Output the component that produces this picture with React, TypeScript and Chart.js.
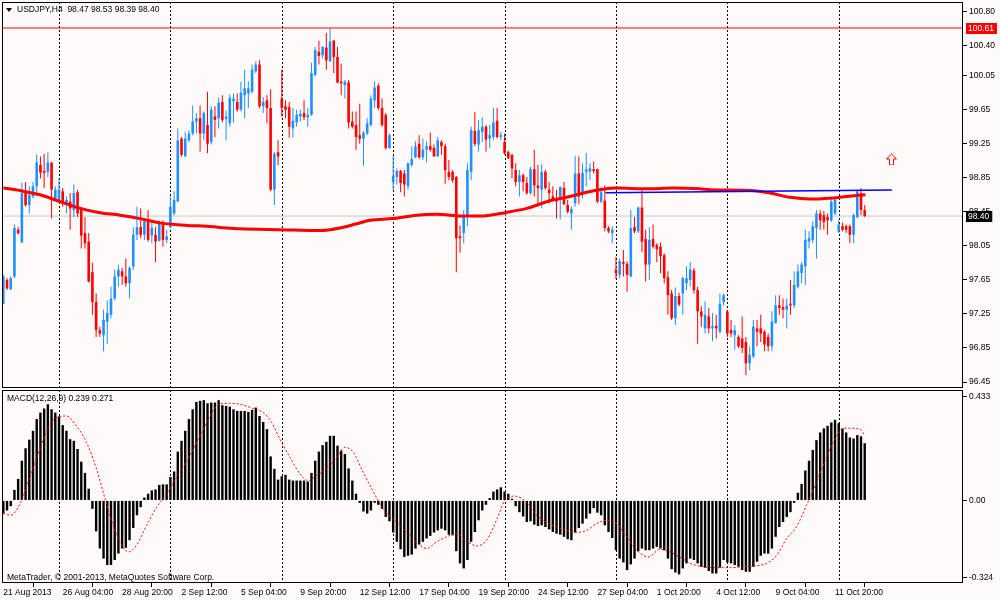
import React, { useEffect, useRef } from "react";
import { Chart, registerables } from "chart.js";

Chart.register(...registerables);

const FONT = '"Liberation Sans", Arial, sans-serif';
const BG = "#FFFAFA";
const BULL = "#1E90FF";
const BEAR = "#FF0000";

// ---- OHLC (USDJPY H4) ----
const opens = [
  97.37, 97.65, 97.54, 97.69, 98.24, 98.09, 98.68, 98.53, 98.63, 98.75,
  99.0, 98.93, 98.92, 99.03, 98.59, 98.59, 98.69, 98.54, 98.57, 98.47,
  98.68, 98.49, 98.2, 98.1, 97.74, 97.39, 97.06, 97.0, 97.16, 97.24,
  97.43, 97.69, 97.75, 97.69, 97.61, 97.81, 98.18, 98.27, 98.18, 98.35,
  98.17, 98.18, 98.11, 98.3, 98.12, 98.27, 98.43, 98.57, 99.31, 99.1,
  99.29, 99.37, 99.51, 99.55, 99.37, 99.47, 99.27, 99.57, 99.55, 99.74,
  99.54, 99.49, 99.75, 99.74, 99.65, 99.82, 99.84, 99.86, 100.1, 100.18,
  99.69, 99.76, 99.67, 98.71, 99.15, 99.78, 99.69, 99.68, 99.43, 99.5,
  99.57, 99.61, 99.56, 99.59, 100.06, 100.33, 100.29, 100.38, 100.22, 100.46,
  100.27, 99.98, 99.94, 99.97, 99.51, 99.47, 99.35, 99.31, 99.37, 99.47,
  99.76, 99.93, 99.67, 99.59, 99.2, 98.8, 98.86, 98.93, 98.9, 98.75,
  99.0, 99.09, 99.25, 99.09, 99.18, 99.22, 99.2, 99.1, 99.27, 99.22,
  98.92, 98.92, 98.86, 98.16, 98.2, 98.39, 98.92, 99.4, 99.24, 99.39,
  99.45, 99.31, 99.33, 99.52, 99.33, 99.27, 99.15, 99.12, 98.94, 98.8,
  98.88, 98.79, 98.67, 98.95, 98.76, 98.71, 98.92, 98.71, 98.63, 98.61,
  98.59, 98.73, 98.53, 98.43, 98.55, 98.9, 98.67, 98.92, 98.92, 98.95,
  98.95, 98.57, 98.58, 98.26, 98.2, 97.77, 97.71, 97.86, 97.84, 97.69,
  98.27, 98.22, 98.5, 98.13, 97.83, 98.13, 98.06, 98.04, 97.94, 97.68,
  97.49, 97.2, 97.46, 97.49, 97.61, 97.65, 97.76, 97.53, 97.28, 97.08,
  97.22, 97.08, 97.11, 97.04, 97.39, 97.28, 97.06, 97.0, 96.98, 96.96,
  96.92, 96.67, 96.75, 97.08, 97.08, 97.04, 96.98, 96.87, 97.14, 97.35,
  97.33, 97.3, 97.37, 97.35, 97.57, 97.73, 97.81, 98.1, 98.12, 98.26,
  98.43, 98.41, 98.39, 98.35, 98.43, 98.22, 98.28, 98.28, 98.28, 98.18,
  98.39, 98.67, 98.47,
];
const highs = [
  97.71, 97.67, 97.69, 98.3, 98.27, 98.79, 98.8, 98.75, 98.8, 99.12,
  99.1, 99.13, 99.15, 99.03, 98.75, 98.84, 98.73, 98.63, 98.67, 98.77,
  98.71, 98.51, 98.39, 98.2, 97.85, 97.49, 97.1, 97.3, 97.41, 97.57,
  97.77, 97.83, 97.79, 97.9, 97.81, 98.27, 98.51, 98.49, 98.35, 98.47,
  98.34, 98.27, 98.35, 98.35, 98.24, 98.63, 98.69, 99.43, 99.33, 99.39,
  99.41, 99.7, 99.61, 99.7, 99.63, 99.86, 99.69, 99.69, 99.79, 99.82,
  99.64, 99.83, 99.84, 99.84, 99.98, 100.12, 99.98, 100.18, 100.22, 100.23,
  99.8, 99.82, 99.89, 99.16, 99.29, 100.12, 99.76, 99.74, 99.67, 99.65,
  99.65, 99.76, 99.67, 100.2, 100.39, 100.46, 100.39, 100.55, 100.61, 100.47,
  100.39, 100.19, 100.0, 100.0, 99.63, 99.63, 99.72, 99.4, 99.55, 99.82,
  99.98, 99.96, 99.78, 99.61, 99.37, 99.11, 98.96, 98.94, 98.94, 99.03,
  99.22, 99.28, 99.35, 99.31, 99.28, 99.38, 99.24, 99.33, 99.29, 99.25,
  99.06, 98.94, 98.87, 98.29, 98.47, 99.02, 99.45, 99.62, 99.53, 99.56,
  99.47, 99.47, 99.67, 99.67, 99.39, 99.37, 99.17, 99.13, 99.02, 98.94,
  98.9, 98.86, 98.98, 99.18, 99.0, 99.01, 98.94, 98.8, 98.75, 98.71,
  98.75, 98.8, 98.59, 98.51, 99.11, 99.1, 99.02, 99.14, 99.02, 99.04,
  98.96, 98.74, 98.76, 98.28, 98.28, 97.92, 97.9, 98.0, 97.87, 98.47,
  98.39, 98.51, 98.71, 98.24, 98.27, 98.3, 98.08, 98.09, 97.96, 97.75,
  97.53, 97.56, 97.5, 97.69, 97.81, 97.86, 97.79, 97.57, 97.34, 97.4,
  97.32, 97.26, 97.24, 97.49, 97.49, 97.3, 97.18, 97.12, 97.0, 97.22,
  96.98, 96.87, 97.18, 97.18, 97.24, 97.06, 97.02, 97.28, 97.47, 97.47,
  97.43, 97.43, 97.65, 97.75, 97.83, 97.86, 98.24, 98.22, 98.34, 98.47,
  98.47, 98.46, 98.43, 98.63, 98.61, 98.35, 98.32, 98.3, 98.3, 98.43,
  98.71, 98.73, 98.53,
];
const lows = [
  97.36, 97.53, 97.53, 97.67, 98.18, 98.08, 98.51, 98.43, 98.61, 98.63,
  98.84, 98.73, 98.86, 98.37, 98.58, 98.57, 98.51, 98.43, 98.24, 98.39,
  98.39, 98.02, 98.02, 97.62, 97.24, 96.98, 96.98, 96.81, 96.9, 97.2,
  97.41, 97.57, 97.59, 97.57, 97.43, 97.77, 98.12, 98.14, 98.12, 98.1,
  98.08, 97.86, 98.1, 98.04, 98.08, 98.26, 98.41, 98.57, 99.1, 99.1,
  99.27, 99.35, 99.37, 99.16, 99.29, 99.14, 99.24, 99.33, 99.43, 99.5,
  99.29, 99.45, 99.5, 99.63, 99.63, 99.55, 99.67, 99.84, 100.08, 99.67,
  99.61, 99.49, 98.69, 98.53, 99.0, 99.57, 99.55, 99.32, 99.32, 99.45,
  99.51, 99.53, 99.45, 99.58, 100.04, 100.18, 100.25, 100.12, 100.21, 100.08,
  99.96, 99.82, 99.78, 99.43, 99.43, 99.18, 99.25, 98.99, 99.35, 99.45,
  99.67, 99.65, 99.45, 99.18, 99.19, 98.7, 98.77, 98.68, 98.63, 98.71,
  98.98, 99.08, 99.07, 99.06, 99.03, 99.16, 99.1, 99.1, 99.12, 98.78,
  98.82, 98.79, 97.74, 97.97, 98.08, 98.28, 98.82, 99.22, 99.16, 99.27,
  99.16, 99.2, 99.29, 99.31, 99.29, 99.12, 99.07, 98.84, 98.75, 98.63,
  98.69, 98.65, 98.65, 98.63, 98.51, 98.49, 98.71, 98.55, 98.59, 98.37,
  98.36, 98.53, 98.43, 98.24, 98.51, 98.54, 98.61, 98.75, 98.82, 98.9,
  98.55, 98.55, 98.22, 98.2, 98.08, 97.66, 97.67, 97.69, 97.51, 97.68,
  98.2, 98.2, 97.98, 97.63, 97.65, 98.02, 97.86, 97.73, 97.61, 97.24,
  97.18, 97.12, 97.34, 97.24, 97.53, 97.57, 97.49, 96.9, 97.1, 97.02,
  97.02, 96.93, 96.96, 97.02, 97.35, 96.98, 96.98, 96.83, 96.85, 96.79,
  96.53, 96.59, 96.73, 96.87, 96.92, 96.81, 96.81, 96.81, 97.14, 97.24,
  97.2, 97.08, 97.24, 97.32, 97.55, 97.61, 97.59, 98.02, 98.08, 97.9,
  98.24, 98.24, 98.18, 98.33, 98.41, 98.2, 98.22, 98.2, 98.08, 98.08,
  98.37, 98.41, 98.39,
];
const closes = [
  97.69, 97.55, 97.67, 98.26, 98.2, 98.67, 98.53, 98.65, 98.75, 99.03,
  98.91, 98.91, 99.03, 98.71, 98.71, 98.71, 98.57, 98.59, 98.49, 98.67,
  98.43, 98.17, 98.08, 97.63, 97.39, 97.06, 97.02, 97.18, 97.26, 97.43,
  97.69, 97.77, 97.69, 97.61, 97.79, 98.18, 98.27, 98.18, 98.34, 98.12,
  98.26, 98.1, 98.32, 98.12, 98.16, 98.51, 98.59, 99.29, 99.12, 99.31,
  99.37, 99.51, 99.55, 99.37, 99.61, 99.25, 99.65, 99.53, 99.73, 99.53,
  99.57, 99.79, 99.78, 99.65, 99.85, 99.9, 99.9, 100.12, 100.18, 99.69,
  99.74, 99.67, 98.71, 99.13, 99.1, 99.67, 99.65, 99.45, 99.52, 99.59,
  99.6, 99.56, 99.59, 100.08, 100.35, 100.28, 100.39, 100.23, 100.45, 100.27,
  99.97, 99.96, 99.98, 99.5, 99.45, 99.33, 99.31, 99.38, 99.49, 99.78,
  99.91, 99.67, 99.47, 99.2, 99.35, 98.87, 98.93, 98.79, 98.77, 99.02,
  99.07, 99.22, 99.09, 99.18, 99.22, 99.18, 99.1, 99.29, 99.22, 98.94,
  98.86, 98.82, 98.14, 98.14, 98.39, 98.94, 99.41, 99.25, 99.41, 99.45,
  99.3, 99.35, 99.5, 99.33, 99.35, 99.14, 99.08, 98.96, 98.8, 98.88,
  98.8, 98.67, 98.95, 98.76, 98.73, 98.92, 98.73, 98.67, 98.59, 98.57,
  98.74, 98.54, 98.45, 98.48, 98.9, 98.63, 98.91, 98.95, 98.96, 98.93,
  98.57, 98.68, 98.26, 98.22, 98.24, 97.73, 97.87, 97.84, 97.71, 98.26,
  98.22, 98.5, 98.1, 97.83, 98.12, 98.04, 98.01, 97.93, 97.67, 97.47,
  97.2, 97.46, 97.36, 97.67, 97.67, 97.77, 97.53, 97.28, 97.22, 97.24,
  97.08, 97.11, 97.08, 97.37, 97.47, 97.02, 97.02, 97.06, 96.87, 96.85,
  96.67, 96.77, 97.1, 97.04, 97.02, 96.89, 96.87, 97.16, 97.35, 97.32,
  97.3, 97.35, 97.35, 97.59, 97.75, 97.83, 98.12, 98.14, 98.28, 98.43,
  98.35, 98.33, 98.35, 98.57, 98.59, 98.3, 98.24, 98.24, 98.18, 98.41,
  98.69, 98.47, 98.4,
];

// ---- Moving average ----
const maIdx = [0, 4.5, 9.9, 15.3, 20.7, 26, 31.4, 36.8, 42.2, 49.4, 54.8, 60.1, 63.7, 74.5, 85.3, 90.7, 95.2, 98.8, 105, 111.3, 116.7, 123.9, 128.4, 135.1, 141, 147.2, 152.6, 157.1, 160.7, 165.1, 173.3, 180.4, 187.6, 190.3, 201.1, 206.5, 211.9, 217.3, 222.6, 227.1, 232.2];
const maVal = [98.73, 98.7, 98.65, 98.57, 98.49, 98.44, 98.41, 98.37, 98.32, 98.29, 98.28, 98.26, 98.25, 98.24, 98.23, 98.26, 98.31, 98.35, 98.37, 98.41, 98.42, 98.4, 98.4, 98.44, 98.49, 98.58, 98.63, 98.68, 98.71, 98.73, 98.72, 98.73, 98.72, 98.71, 98.7, 98.67, 98.62, 98.6, 98.61, 98.63, 98.65];

// ---- Trend line, levels, arrow ----
const trendIdx = [162.2, 239.3];
const trendVal = [98.675, 98.706];
const levelPrice = 100.61;
const bidPrice = 98.4;
const arrowIdx = [239.2];
const arrowPrice = [99.065];

// ---- MACD(12,26,9) ----
const macdMain = [
  -0.055, -0.042, -0.024, 0.044, 0.09, 0.166, 0.218, 0.254, 0.291, 0.34,
  0.367, 0.384, 0.402, 0.381, 0.367, 0.351, 0.315, 0.291, 0.256, 0.249,
  0.215, 0.162, 0.115, 0.049, -0.035, -0.129, -0.201, -0.243, -0.27, -0.27,
  -0.249, -0.222, -0.201, -0.198, -0.166, -0.115, -0.062, -0.028, 0.012, 0.028,
  0.042, 0.046, 0.065, 0.067, 0.067, 0.098, 0.121, 0.204, 0.249, 0.291,
  0.34, 0.381, 0.412, 0.416, 0.419, 0.406, 0.409, 0.409, 0.419, 0.398,
  0.395, 0.392, 0.381, 0.374, 0.374, 0.374, 0.37, 0.378, 0.388, 0.353,
  0.328, 0.298, 0.184, 0.132, 0.087, 0.101, 0.107, 0.087, 0.083, 0.083,
  0.083, 0.083, 0.079, 0.115, 0.166, 0.204, 0.231, 0.245, 0.27, 0.27,
  0.229, 0.208, 0.194, 0.134, 0.083, 0.028, -0.01, -0.046, -0.055, -0.042,
  -0.01, -0.018, -0.035, -0.069, -0.087, -0.134, -0.173, -0.204, -0.236, -0.231,
  -0.226, -0.201, -0.184, -0.173, -0.159, -0.148, -0.134, -0.125, -0.118, -0.125,
  -0.143, -0.146, -0.212, -0.263, -0.284, -0.249, -0.173, -0.132, -0.083, -0.042,
  -0.018, 0.01, 0.037, 0.046, 0.055, 0.037, 0.028, 0.007, -0.024, -0.049,
  -0.067, -0.09, -0.087, -0.101, -0.107, -0.104, -0.111, -0.121, -0.132, -0.139,
  -0.143, -0.152, -0.162, -0.166, -0.134, -0.115, -0.097, -0.076, -0.055, -0.032,
  -0.051, -0.062, -0.104, -0.132, -0.157, -0.208, -0.243, -0.259, -0.291, -0.267,
  -0.243, -0.212, -0.201, -0.208, -0.208, -0.201, -0.194, -0.201, -0.208, -0.243,
  -0.287, -0.301, -0.309, -0.284, -0.263, -0.243, -0.249, -0.263, -0.277, -0.281,
  -0.295, -0.305, -0.305, -0.281, -0.249, -0.259, -0.263, -0.27, -0.277, -0.291,
  -0.298, -0.298, -0.277, -0.256, -0.231, -0.222, -0.222, -0.201, -0.152, -0.111,
  -0.09, -0.069, -0.049, -0.01, 0.032, 0.069, 0.125, 0.166, 0.211, 0.252,
  0.284, 0.301, 0.312, 0.326, 0.337, 0.323, 0.301, 0.284, 0.263, 0.259,
  0.273, 0.268, 0.239,
];
const sigIdx = [0, 2, 4.5, 7, 10, 12.6, 15.3, 17, 19.3, 22.4, 25.1, 27.4, 29.6, 31.9, 33.7, 35.9, 38.6, 41.3, 44, 46.7, 49.4, 52.1, 54.8, 57.5, 60.2, 63.7, 67.3, 70, 72.3, 74.5, 77.2, 79.9, 82.1, 84.4, 87.1, 89.8, 92, 94.3, 96.9, 99.7, 102.3, 105.9, 109.5, 112.2, 114, 116.7, 119.4, 122.1, 124.8, 127.5, 130.2, 133, 135.1, 137.8, 140.9, 143.6, 147.2, 150.8, 154.4, 157.1, 159.8, 162.5, 165.2, 167.9, 170.6, 173.7, 176.9, 179.5, 182.2, 185, 188.5, 192.1, 195.7, 199.3, 202.9, 205.6, 208.3, 211, 213.6, 216.3, 219, 221.7, 224, 225.8, 228, 230.7, 232];
const sigVal = [-0.055, -0.062, -0.014, 0.09, 0.222, 0.319, 0.351, 0.353, 0.319, 0.243, 0.132, 0.007, -0.104, -0.187, -0.215, -0.187, -0.104, -0.028, 0.028, 0.097, 0.166, 0.243, 0.326, 0.395, 0.406, 0.402, 0.384, 0.367, 0.326, 0.256, 0.18, 0.111, 0.083, 0.104, 0.132, 0.18, 0.222, 0.201, 0.118, 0.035, -0.035, -0.09, -0.146, -0.187, -0.201, -0.173, -0.152, -0.139, -0.17, -0.19, -0.166, -0.076, 0.0, 0.018, -0.007, -0.062, -0.097, -0.121, -0.134, -0.125, -0.097, -0.083, -0.097, -0.152, -0.208, -0.236, -0.204, -0.215, -0.236, -0.263, -0.277, -0.281, -0.281, -0.277, -0.273, -0.263, -0.229, -0.159, -0.111, -0.021, 0.076, 0.18, 0.256, 0.298, 0.302, 0.298, 0.271];

// ---- Axes ----
const priceTicks = [96.45, 96.85, 97.25, 97.65, 98.05, 98.45, 98.85, 99.25, 99.65, 100.05, 100.4, 100.8];
const macdTicks = [-0.324, 0, 0.433];
const macdTickLabels = ["-0.324", "0.00", "0.433"];
const weekStarts = [15, 45, 75, 105, 135, 165, 195, 225];
const dateTickIdx = [0, 16, 32, 48, 64, 80, 96, 112, 128, 144, 160, 176, 192, 208, 224];
const dateLabels = ["21 Aug 2013", "26 Aug 04:00", "28 Aug 20:00", "2 Sep 12:00", "5 Sep 04:00", "9 Sep 20:00", "12 Sep 12:00", "17 Sep 04:00", "19 Sep 20:00", "24 Sep 12:00", "27 Sep 04:00", "1 Oct 20:00", "4 Oct 12:00", "9 Oct 04:00", "11 Oct 20:00"];

const X_MIN = -0.35;
const X_MAX = 258.47;
const P_MIN = 96.3795;
const P_MAX = 100.9153;
const M_MIN = -0.345;
const M_MAX = 0.4615;

const tickFont = { family: FONT, size: 8.5 };

const zeroPad = (s: any) => {
  s.paddingTop = 0;
  s.paddingBottom = 0;
  s.paddingLeft = 0;
  s.paddingRight = 0;
};

const frameGridPlugin = {
  id: "frameGrid",
  beforeDatasetsDraw(chart: any) {
    const { ctx, chartArea: a, scales } = chart;
    ctx.save();
    ctx.strokeStyle = "#000";
    ctx.lineWidth = 1;
    ctx.setLineDash([2, 2]);
    weekStarts.forEach((w) => {
      const x = Math.round(scales.x.getPixelForValue(w)) + 0.5;
      ctx.beginPath();
      ctx.moveTo(x, a.top);
      ctx.lineTo(x, a.bottom);
      ctx.stroke();
    });
    ctx.restore();
  },
  afterDraw(chart: any) {
    const { ctx, chartArea: a } = chart;
    ctx.save();
    ctx.strokeStyle = "#000";
    ctx.lineWidth = 1;
    ctx.strokeRect(a.left + 0.5, a.top + 0.5, a.right - a.left - 1, a.bottom - a.top - 1);
    ctx.restore();
  },
};

const priceTagPlugin = {
  id: "priceTags",
  afterDraw(chart: any) {
    const { ctx, chartArea: a, scales } = chart;
    const tags = [
      { v: levelPrice, bg: "#FF0000" },
      { v: bidPrice, bg: "#000000" },
    ];
    ctx.save();
    ctx.font = `8.5px ${FONT}`;
    ctx.textBaseline = "middle";
    ctx.textAlign = "left";
    tags.forEach((t) => {
      const y = Math.round(scales.y.getPixelForValue(t.v));
      const txt = t.v.toFixed(2);
      const w = ctx.measureText(txt).width + 5;
      ctx.fillStyle = t.bg;
      ctx.fillRect(a.right + 3, y - 5, w, 11);
      ctx.fillStyle = "#FFFFFF";
      ctx.fillText(txt, a.right + 5, y + 0.5);
    });
    ctx.restore();
  },
};

function makeArrow(): HTMLCanvasElement {
  const c = document.createElement("canvas");
  c.width = 11;
  c.height = 12;
  const g = c.getContext("2d")!;
  g.strokeStyle = "#FF0000";
  g.lineWidth = 1;
  g.beginPath();
  g.moveTo(5.5, 0.5);
  g.lineTo(10.5, 5.5);
  g.lineTo(7.5, 5.5);
  g.lineTo(7.5, 11.5);
  g.lineTo(3.5, 11.5);
  g.lineTo(3.5, 5.5);
  g.lineTo(0.5, 5.5);
  g.closePath();
  g.stroke();
  return c;
}

export default function App() {
  const mainRef = useRef<HTMLCanvasElement>(null);
  const macdRef = useRef<HTMLCanvasElement>(null);

  useEffect(() => {
    const idx = opens.map((_, i) => i);
    const colors = idx.map((i) => (closes[i] >= opens[i] ? BULL : BEAR));
    const wickData = idx.map((i) => ({ x: i, y: [lows[i], highs[i]] }));
    const bodyData = idx.map((i) => ({
      x: i,
      y: [Math.min(opens[i], closes[i]), Math.max(opens[i], closes[i])],
    }));

    const main = new Chart(mainRef.current!, {
      type: "bar",
      data: {
        datasets: [
          {
            type: "line",
            data: [{ x: X_MIN, y: bidPrice }, { x: X_MAX, y: bidPrice }],
            borderColor: "#C8C8C8",
            borderWidth: 1,
            pointRadius: 0,
            order: 9,
          } as any,
          {
            type: "bar",
            data: wickData,
            backgroundColor: colors,
            barThickness: 1,
            grouped: false,
            inflateAmount: 0,
            order: 8,
          } as any,
          {
            type: "bar",
            data: bodyData,
            backgroundColor: colors,
            barThickness: 2.6,
            grouped: false,
            minBarLength: 1,
            inflateAmount: 0,
            order: 7,
          } as any,
          {
            type: "line",
            data: maIdx.map((x, k) => ({ x, y: maVal[k] })),
            borderColor: "#FF0000",
            borderWidth: 3,
            pointRadius: 0,
            cubicInterpolationMode: "monotone",
            order: 4,
          } as any,
          {
            type: "line",
            data: trendIdx.map((x, k) => ({ x, y: trendVal[k] })),
            borderColor: "#0000FF",
            borderWidth: 1.5,
            pointRadius: 0,
            order: 3,
          } as any,
          {
            type: "line",
            data: [{ x: X_MIN, y: levelPrice }, { x: X_MAX, y: levelPrice }],
            borderColor: "#FF0000",
            borderWidth: 1,
            pointRadius: 0,
            order: 2,
          } as any,
          {
            type: "line",
            data: arrowIdx.map((x, k) => ({ x, y: arrowPrice[k] })),
            showLine: false,
            pointStyle: makeArrow(),
            pointRadius: 5,
            order: 1,
          } as any,
        ],
      },
      options: {
        responsive: false,
        maintainAspectRatio: false,
        animation: false,
        events: [],
        layout: { autoPadding: false, padding: { left: 2, top: 2, bottom: 2, right: 0 } },
        plugins: { legend: { display: false }, tooltip: { enabled: false } },
        scales: {
          x: {
            type: "linear",
            min: X_MIN,
            max: X_MAX,
            offset: false,
            display: false,
            afterFit: (s: any) => {
              s.height = 0;
              zeroPad(s);
            },
          },
          y: {
            type: "linear",
            position: "right",
            min: P_MIN,
            max: P_MAX,
            afterFit: (s: any) => {
              s.width = 37;
              zeroPad(s);
            },
            afterBuildTicks: (s: any) => {
              s.ticks = priceTicks.map((v) => ({ value: v }));
            },
            ticks: {
              callback: (v: any) => Number(v).toFixed(2),
              font: tickFont,
              color: "#000",
              padding: 2,
              autoSkip: false,
            },
            grid: { drawOnChartArea: false, drawTicks: true, tickLength: 4, color: "#000" },
            border: { display: false },
          },
        },
      } as any,
      plugins: [frameGridPlugin, priceTagPlugin],
    });

    const macd = new Chart(macdRef.current!, {
      type: "bar",
      data: {
        datasets: [
          {
            type: "line",
            data: sigIdx.map((x, k) => ({ x, y: sigVal[k] })),
            borderColor: "#FF0000",
            borderWidth: 1,
            borderDash: [2, 2],
            pointRadius: 0,
            cubicInterpolationMode: "monotone",
            order: 1,
          } as any,
          {
            type: "bar",
            data: macdMain.map((v, i) => ({ x: i, y: v })),
            backgroundColor: "#000000",
            barThickness: 2.4,
            grouped: false,
            inflateAmount: 0,
            order: 2,
          } as any,
        ],
      },
      options: {
        responsive: false,
        maintainAspectRatio: false,
        animation: false,
        events: [],
        layout: { autoPadding: false, padding: { left: 2, top: 2, bottom: 0, right: 0 } },
        plugins: { legend: { display: false }, tooltip: { enabled: false } },
        scales: {
          x: {
            type: "linear",
            min: X_MIN,
            max: X_MAX,
            offset: false,
            position: "bottom",
            afterFit: (s: any) => {
              s.height = 17;
              zeroPad(s);
            },
            afterBuildTicks: (s: any) => {
              s.ticks = dateTickIdx.map((v) => ({ value: v }));
            },
            ticks: {
              callback: (_v: any, i: number) => dateLabels[i],
              autoSkip: false,
              maxRotation: 0,
              minRotation: 0,
              align: "start",
              padding: 1,
              font: tickFont,
              color: "#000",
            },
            grid: { drawOnChartArea: false, drawTicks: true, tickLength: 4, color: "#000" },
            border: { display: false },
          },
          y: {
            type: "linear",
            position: "right",
            min: M_MIN,
            max: M_MAX,
            afterFit: (s: any) => {
              s.width = 37;
              zeroPad(s);
            },
            afterBuildTicks: (s: any) => {
              s.ticks = macdTicks.map((v) => ({ value: v }));
            },
            ticks: {
              callback: (_v: any, i: number) => macdTickLabels[i],
              font: tickFont,
              color: "#000",
              padding: 2,
              autoSkip: false,
            },
            grid: { drawOnChartArea: false, drawTicks: true, tickLength: 4, color: "#000" },
            border: { display: false },
          },
        },
      } as any,
      plugins: [frameGridPlugin],
    });

    return () => {
      main.destroy();
      macd.destroy();
    };
  }, []);

  const txt: React.CSSProperties = {
    position: "absolute",
    fontFamily: FONT,
    fontSize: "8.5px",
    lineHeight: "10px",
    color: "#000",
    whiteSpace: "pre",
    pointerEvents: "none",
  };

  return (
    <div
      style={{
        position: "absolute",
        left: 0,
        top: 0,
        width: 1000,
        height: 600,
        background: BG,
        overflow: "hidden",
      }}
    >
      <canvas
        ref={mainRef}
        width={1000}
        height={390}
        style={{ position: "absolute", left: 0, top: 0, width: 1000, height: 390 }}
      />
      <canvas
        ref={macdRef}
        width={1000}
        height={212}
        style={{ position: "absolute", left: 0, top: 388, width: 1000, height: 212 }}
      />
      <div
        style={{
          position: "absolute",
          left: 6,
          top: 8,
          width: 0,
          height: 0,
          borderLeft: "3px solid transparent",
          borderRight: "3px solid transparent",
          borderTop: "4px solid #000",
        }}
      />
      <div style={{ ...txt, left: 17, top: 4 }}>{"USDJPY,H4  98.47 98.53 98.39 98.40"}</div>
      <div style={{ ...txt, left: 7, top: 393 }}>{"MACD(12,26,9) 0.239 0.271"}</div>
      <div style={{ ...txt, left: 7, top: 572 }}>{"MetaTrader, © 2001-2013, MetaQuotes Software Corp."}</div>
    </div>
  );
}
